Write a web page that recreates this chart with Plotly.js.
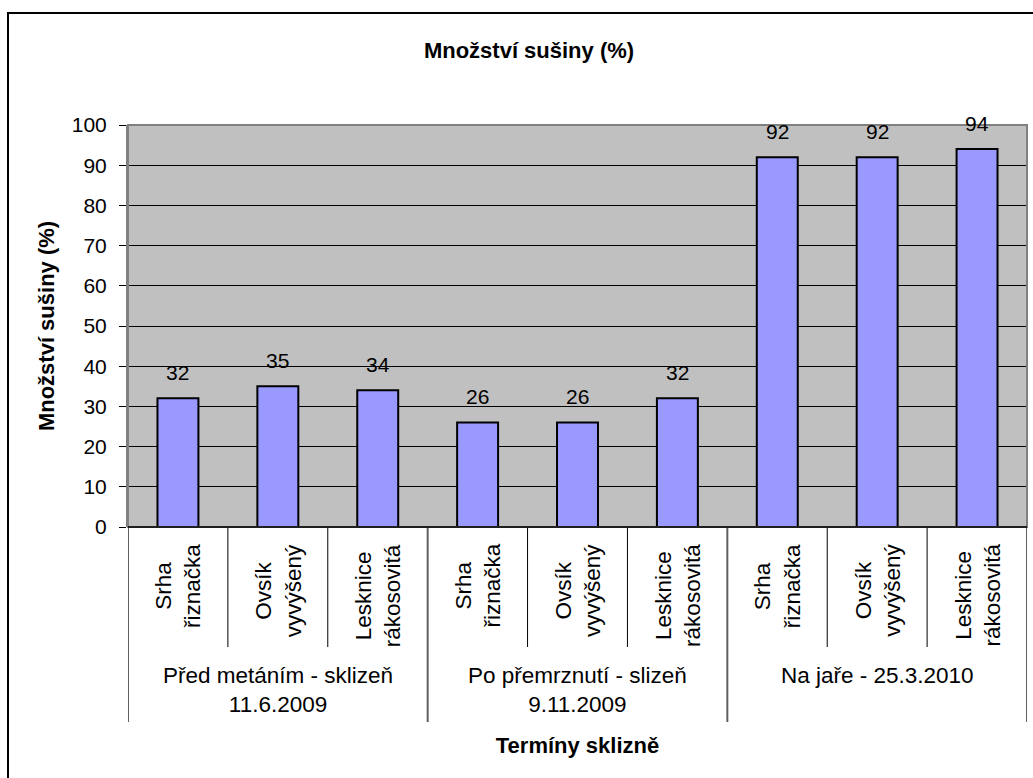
<!DOCTYPE html>
<html>
<head>
<meta charset="utf-8">
<script src="https://cdn.plot.ly/plotly-3.0.1.min.js"></script>
<style>html,body{margin:0;padding:0;background:#fff;}#chart{width:1033px;height:778px;}</style>
</head>
<body>
<div id="chart"></div>
<script>
const groups = ["Před metáním - sklizeň<br>11.6.2009", "Po přemrznutí - slizeň<br>9.11.2009", "Na jaře - 25.3.2010"];
const species = ["Srha<br>řiznačka", "Ovsík<br>vyvýšený", "Lesknice<br>rákosovitá"];
const values = [32, 35, 34, 26, 26, 32, 92, 92, 94];
const yTicks = [0, 10, 20, 30, 40, 50, 60, 70, 80, 90, 100];

const W = 1033, H = 778;
const M = {l: 128, r: 6, t: 125, b: 251};
const plotW = W - M.l - M.r, plotH = H - M.t - M.b;
const FONT = "'Liberation Sans', Arial, sans-serif";

const xs = values.map((v, i) => i);

const annotations = [];
values.forEach((v, i) => {
  annotations.push({x: i, y: v, xref: 'x', yref: 'y', text: String(v), showarrow: false,
    yanchor: 'middle', yshift: 26, font: {family: FONT, size: 21, color: '#000'}});
  annotations.push({x: i, y: 0, xref: 'x', yref: 'paper', text: species[i % species.length], showarrow: false,
    textangle: -90, yanchor: 'top', xanchor: 'center', yshift: -15, align: 'center',
    font: {family: FONT, size: 22.5, color: '#000'}});
});
groups.forEach((g, gi) => {
  annotations.push({x: gi * species.length + (species.length - 1) / 2, y: 0, xref: 'x', yref: 'paper',
    text: g, showarrow: false, yanchor: 'top', yshift: -134, align: 'center',
    font: {family: FONT, size: 22.5, color: '#000'}});
});

const shapes = [];
for (let b = 0; b <= values.length; b++) {
  const isGroup = b % species.length === 0;
  shapes.push({type: 'line', xref: 'x', yref: 'paper', ysizemode: 'pixel', yanchor: 0,
    x0: b - 0.5, x1: b - 0.5, y0: 0, y1: isGroup ? -195 : -120,
    line: {color: isGroup ? '#606060' : '#000', width: isGroup ? 2 : 1}});
}
// plot area border
shapes.push({type: 'rect', xref: 'paper', yref: 'paper', x0: 0, x1: 1, y0: 0, y1: 1,
  line: {color: '#808080', width: 2}});
shapes.push({type: 'line', xref: 'paper', yref: 'paper', x0: 0, x1: 1, y0: 0, y1: 0,
  line: {color: '#000', width: 1.5}});
// outer chart frame (top & left visible)
shapes.push({type: 'rect', xref: 'paper', yref: 'paper',
  x0: (8 - M.l) / plotW, x1: (W + 20 - M.l) / plotW,
  y0: -(H + 20 - (M.t + plotH)) / plotH, y1: 1 + (M.t - 13) / plotH,
  line: {color: '#000', width: 2}});

const data = [{
  type: 'bar', x: xs, y: values,
  marker: {color: '#9999FF', line: {color: '#000', width: 2}},
  hoverinfo: 'y'
}];

const layout = {
  width: W, height: H,
  margin: M,
  paper_bgcolor: '#fff', plot_bgcolor: '#C0C0C0',
  showlegend: false,
  bargap: 0.59,
  font: {family: FONT, color: '#000'},
  title: {text: 'Množství sušiny (%)', xref: 'container', yref: 'container',
    x: 529 / W, y: 1 - 50 / H, xanchor: 'center', yanchor: 'middle',
    font: {family: FONT, size: 22, weight: 700, color: '#000'}},
  xaxis: {range: [-0.5, values.length - 0.5], showticklabels: false, showgrid: false,
    zeroline: false, ticks: '', fixedrange: true,
    title: {text: 'Termíny sklizně', standoff: 210, font: {family: FONT, size: 22, weight: 700, color: '#000'}}},
  yaxis: {range: [0, 100], tickvals: yTicks, ticktext: yTicks.map(String), showgrid: true, gridcolor: '#000', gridwidth: 1,
    zeroline: false, ticks: 'outside', ticklen: 7, tickcolor: '#000', tickwidth: 1,
    ticklabelstandoff: 8,
    showline: true, linecolor: '#808080', linewidth: 2,
    tickfont: {family: FONT, size: 21, color: '#000'}, fixedrange: true,
    title: {text: 'Množství sušiny (%)', standoff: 11, font: {family: FONT, size: 22, weight: 700, color: '#000'}}},
  annotations: annotations,
  shapes: shapes
};

Plotly.newPlot('chart', data, layout, {displayModeBar: false, staticPlot: true});
</script>
</body>
</html>
